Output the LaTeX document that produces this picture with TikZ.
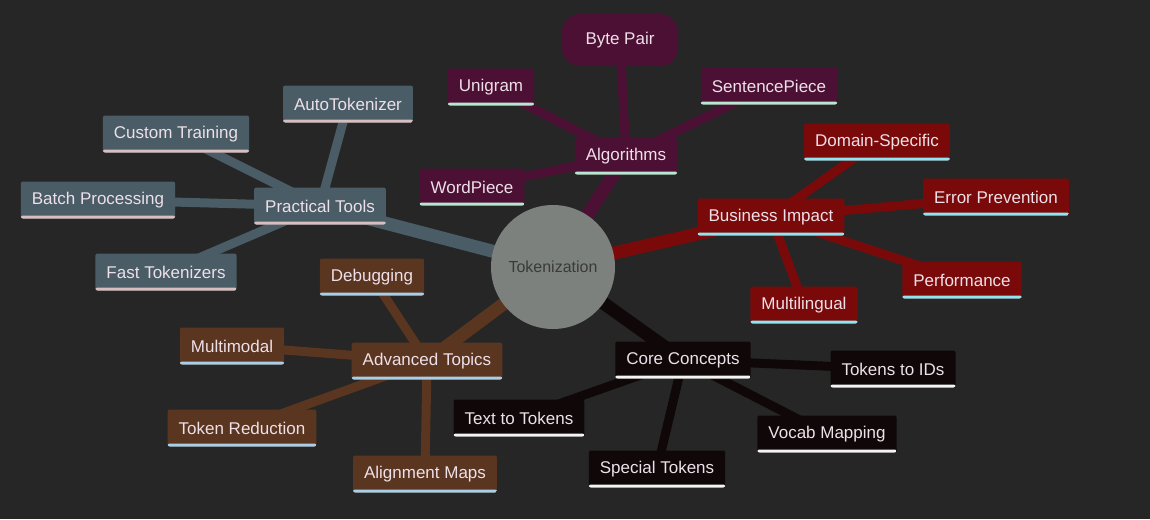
\documentclass[tikz,border=0pt]{standalone}
\usepackage{fontspec}
\setmainfont{Liberation Sans}
\usetikzlibrary{backgrounds}
\definecolor{bg}{HTML}{262626}
\definecolor{cpur}{HTML}{4D1035}
\definecolor{cred}{HTML}{7A0A0A}
\definecolor{cblk}{HTML}{100808}
\definecolor{cbrn}{HTML}{5A3520}
\definecolor{cslt}{HTML}{4A5C66}
\definecolor{ctxt}{HTML}{EDE0E8}
\definecolor{umint}{HTML}{B5E8CF}
\definecolor{ucyan}{HTML}{8EE6F0}
\definecolor{uwhite}{HTML}{F4F4F4}
\definecolor{ublue}{HTML}{A9CFE8}
\definecolor{upink}{HTML}{D8BFBF}
\definecolor{cgray}{HTML}{7C817E}
\definecolor{rtxt}{HTML}{3A3A3A}
\tikzset{
  box/.style 2 args={fill=#1,text=ctxt,font=\fontsize{17}{19}\selectfont,minimum height=37pt,inner xsep=11pt,rounded corners=2pt,
    path picture={\fill[#2] ([yshift=3pt]path picture bounding box.south west) rectangle (path picture bounding box.south east);}},
  br/.style={line width=#1,line cap=round},
}
\begin{document}
\begin{tikzpicture}[x=1pt,y=-1pt]
\useasboundingbox (0,0) rectangle (1150,519);
\node[circle,fill=cgray,minimum size=124pt,text=rtxt,font=\fontsize{16}{18}\selectfont] (root) at (553,267) {Tokenization};
% algorithms
\node[fill=cpur,text=ctxt,font=\fontsize{17}{19}\selectfont,minimum height=52pt,minimum width=116pt,rounded corners=18pt] (bp) at (620,40) {Byte Pair};
\node[box={cpur}{umint}] (alg) at (626,156) {Algorithms};
\node[box={cpur}{umint}] (uni) at (491,87) {Unigram};
\node[box={cpur}{umint}] (sp) at (769,86) {SentencePiece};
\node[box={cpur}{umint}] (wp) at (472,187) {WordPiece};
% business
\node[box={cred}{ucyan}] (bi) at (771,217) {Business Impact};
\node[box={cred}{ucyan}] (ds) at (877,142) {Domain-Specific};
\node[box={cred}{ucyan}] (ep) at (996,197) {Error Prevention};
\node[box={cred}{ucyan}] (pf) at (962,280) {Performance};
\node[box={cred}{ucyan}] (ml) at (804,305) {Multilingual};
% core
\node[box={cblk}{uwhite}] (cc) at (683,360) {Core Concepts};
\node[box={cblk}{uwhite}] (tid) at (893,369) {Tokens to IDs};
\node[box={cblk}{uwhite}] (ttt) at (519,418) {Text to Tokens};
\node[box={cblk}{uwhite}] (vm) at (827,434) {Vocab Mapping};
\node[box={cblk}{uwhite}] (st) at (657,469) {Special Tokens};
% advanced
\node[box={cbrn}{ublue}] (at) at (427,361) {Advanced Topics};
\node[box={cbrn}{ublue}] (dbg) at (372,277) {Debugging};
\node[box={cbrn}{ublue}] (mm) at (232,346) {Multimodal};
\node[box={cbrn}{ublue}] (tr) at (242,428) {Token Reduction};
\node[box={cbrn}{ublue}] (am) at (425,474) {Alignment Maps};
% practical
\node[box={cslt}{upink}] (pt) at (320,206) {Practical Tools};
\node[box={cslt}{upink}] (auto) at (348,104) {AutoTokenizer};
\node[box={cslt}{upink}] (ct) at (176,134) {Custom Training};
\node[box={cslt}{upink}] (bpr) at (98,200) {Batch Processing};
\node[box={cslt}{upink}] (ft) at (166,272) {Fast Tokenizers};
\begin{scope}[on background layer]
\fill[bg] (0,0) rectangle (1150,519);
\draw[cpur,br=13pt] (root.center) -- (alg.center);
\draw[cred,br=13pt] (root.center) -- (bi.center);
\draw[cblk,br=13pt] (root.center) -- (cc.center);
\draw[cbrn,br=13pt] (root.center) -- (at.center);
\draw[cslt,br=13pt] (root.center) -- (pt.center);
\foreach \c in {bp,uni,sp,wp} \draw[cpur,br=9pt] (alg.center) -- (\c.center);
\foreach \c in {ds,ep,pf,ml} \draw[cred,br=9pt] (bi.center) -- (\c.center);
\foreach \c in {tid,ttt,vm,st} \draw[cblk,br=9pt] (cc.center) -- (\c.center);
\foreach \c in {dbg,mm,tr,am} \draw[cbrn,br=9pt] (at.center) -- (\c.center);
\foreach \c in {auto,ct,bpr,ft} \draw[cslt,br=9pt] (pt.center) -- (\c.center);
\end{scope}
\end{tikzpicture}
\end{document}
